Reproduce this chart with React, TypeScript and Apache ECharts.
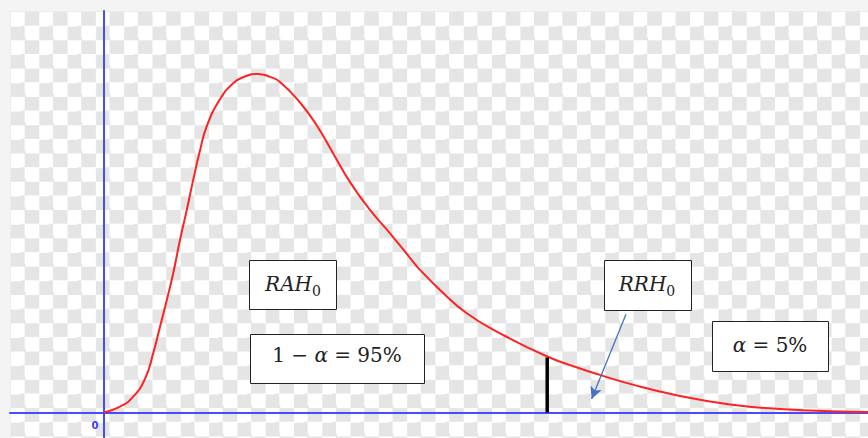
import React, { useEffect, useRef } from "react";
import * as echarts from "echarts";

// Curve (x in axis units, y in density units)
const curveX = [0, 0.4, 0.73, 1.03, 1.23, 1.4, 1.57, 1.73, 1.9, 2.07, 2.23, 2.4, 2.57, 2.9, 3.23, 3.52, 3.85, 4.15, 4.4, 4.9, 5.32, 5.73, 6.15, 6.65, 7.15, 7.65, 7.9, 8.4, 9.07, 9.9, 11.08, 11.9, 12.4, 13.15, 14.4, 15.65, 16.9, 18.15, 19.1];
const curveY = [0, 0.0029, 0.0079, 0.0171, 0.0296, 0.0429, 0.0563, 0.0696, 0.0863, 0.1013, 0.1163, 0.131, 0.1432, 0.1566, 0.1646, 0.168, 0.1693, 0.1678, 0.1653, 0.155, 0.1435, 0.1295, 0.1152, 0.1013, 0.0896, 0.0773, 0.0713, 0.0613, 0.0496, 0.0396, 0.028, 0.022, 0.0188, 0.0143, 0.0083, 0.004, 0.0018, 0.0006, 0.0003];

// Critical value line
const criticalX = 11.08;
const criticalY = 0.0275;

// Arrow from the RRH0 box into the rejection region
const arrowFrom = [13.05, 0.0491];
const arrowTo = [12.19, 0.0068];

// Labels
const labelRAH = "RAH";
const labelRRH = "RRH";
const labelSub = "0";
const labelAccept = ["1 \u2212 ", "\u03b1", " = 95%"];
const labelAlpha = ["\u03b1", " = 5%"];
const originLabel = "0";

const FONT = "'DejaVu Serif', serif";

function box(x: number, y: number, w: number, h: number, cx: number, cy: number, text: string, rich: any) {
  return {
    type: "group",
    children: [
      {
        type: "rect",
        shape: { x: x + 0.5, y: y + 0.5, width: w, height: h },
        style: { fill: "#ffffff", stroke: "#222222", lineWidth: 1 },
      },
      {
        type: "text",
        x: cx,
        y: cy,
        style: {
          text,
          rich,
          fontFamily: FONT,
          align: "center",
          verticalAlign: "middle",
        },
      },
    ],
  };
}

export default function App() {
  const ref = useRef<HTMLDivElement>(null);
  useEffect(() => {
    if (!ref.current) return;
    const chart = echarts.init(ref.current, null, { renderer: "svg" });
    const curve = curveX.map((x, i) => [x, curveY[i]]);
    const richH = {
      i: { fontFamily: FONT, fontStyle: "italic", fontSize: 20, lineHeight: 28, verticalAlign: "middle", fill: "#222" },
      s: { fontFamily: FONT, fontSize: 14, lineHeight: 22, verticalAlign: "bottom", fill: "#222", padding: [8, 0, 0, 0] },
    };
    const richEq = {
      n: { fontFamily: FONT, fontSize: 20, fill: "#222" },
      a: { fontFamily: FONT, fontStyle: "italic", fontSize: 20, fill: "#222" },
    };
    chart.setOption({
      animation: false,
      grid: { left: 10, top: 11, right: 0, bottom: 0, containLabel: false },
      xAxis: {
        type: "value",
        min: -2.35,
        max: 19.1,
        axisLine: { show: true, onZero: true, lineStyle: { color: "#4a4aff", width: 2 } },
        axisTick: { show: false },
        axisLabel: { show: false },
        splitLine: { show: false },
      },
      yAxis: {
        type: "value",
        min: -0.01275,
        max: 0.20075,
        axisLine: { show: true, onZero: true, lineStyle: { color: "#4a4aff", width: 2 } },
        axisTick: { show: false },
        axisLabel: { show: false },
        splitLine: { show: false },
      },
      series: [
        {
          type: "line",
          data: curve,
          smooth: 0.5,
          showSymbol: false,
          lineStyle: { color: "#ff2222", width: 2 },
          silent: true,
          z: 3,
        },
        {
          type: "line",
          data: [
            [criticalX, 0],
            [criticalX, criticalY],
          ],
          showSymbol: false,
          lineStyle: { color: "#000000", width: 3.5 },
          silent: true,
          z: 4,
          markLine: {
            silent: true,
            symbol: ["none", "arrow"],
            symbolSize: [9, 12],
            label: { show: false },
            lineStyle: { color: "#4472c4", width: 1.3, type: "solid" },
            data: [[{ coord: arrowFrom }, { coord: arrowTo }]],
          },
        },
      ],
      graphic: [
        box(249, 260, 87, 49, 293, 284, `{i|${labelRAH}}{s|${labelSub}}`, richH),
        box(250, 334, 174, 49, 337, 355, `{n|${labelAccept[0]}}{a|${labelAccept[1]}}{n|${labelAccept[2]}}`, richEq),
        box(604, 260, 87, 50, 647, 284, `{i|${labelRRH}}{s|${labelSub}}`, richH),
        box(712, 321, 116, 50, 770, 345, `{a|${labelAlpha[0]}}{n|${labelAlpha[1]}}`, richEq),
        {
          type: "text",
          x: 95,
          y: 425,
          style: {
            text: originLabel,
            fontFamily: "'DejaVu Sans', sans-serif",
            fontWeight: "bold",
            fontSize: 10,
            fill: "#3c3cff",
            align: "center",
            verticalAlign: "middle",
          },
        },
      ],
    });
    return () => chart.dispose();
  }, []);

  const checker =
    "conic-gradient(#e5e5e5 0 25%, #ffffff 0 50%, #e5e5e5 0 75%, #ffffff 0)";
  return (
    <div style={{ position: "absolute", left: 0, top: 0, width: 868, height: 438, background: "#f4f4f4", overflow: "hidden" }}>
      <div
        style={{
          position: "absolute",
          left: 10,
          top: 11,
          width: 858,
          height: 427,
          backgroundImage: checker,
          backgroundSize: "28.3px 28.3px",
          backgroundPosition: "0 0",
          borderTop: "1px solid #ececec",
          borderLeft: "1px solid #ececec",
          boxSizing: "border-box",
        }}
      />
      <div ref={ref} style={{ position: "absolute", left: 0, top: 0, width: 868, height: 438 }} />
    </div>
  );
}
